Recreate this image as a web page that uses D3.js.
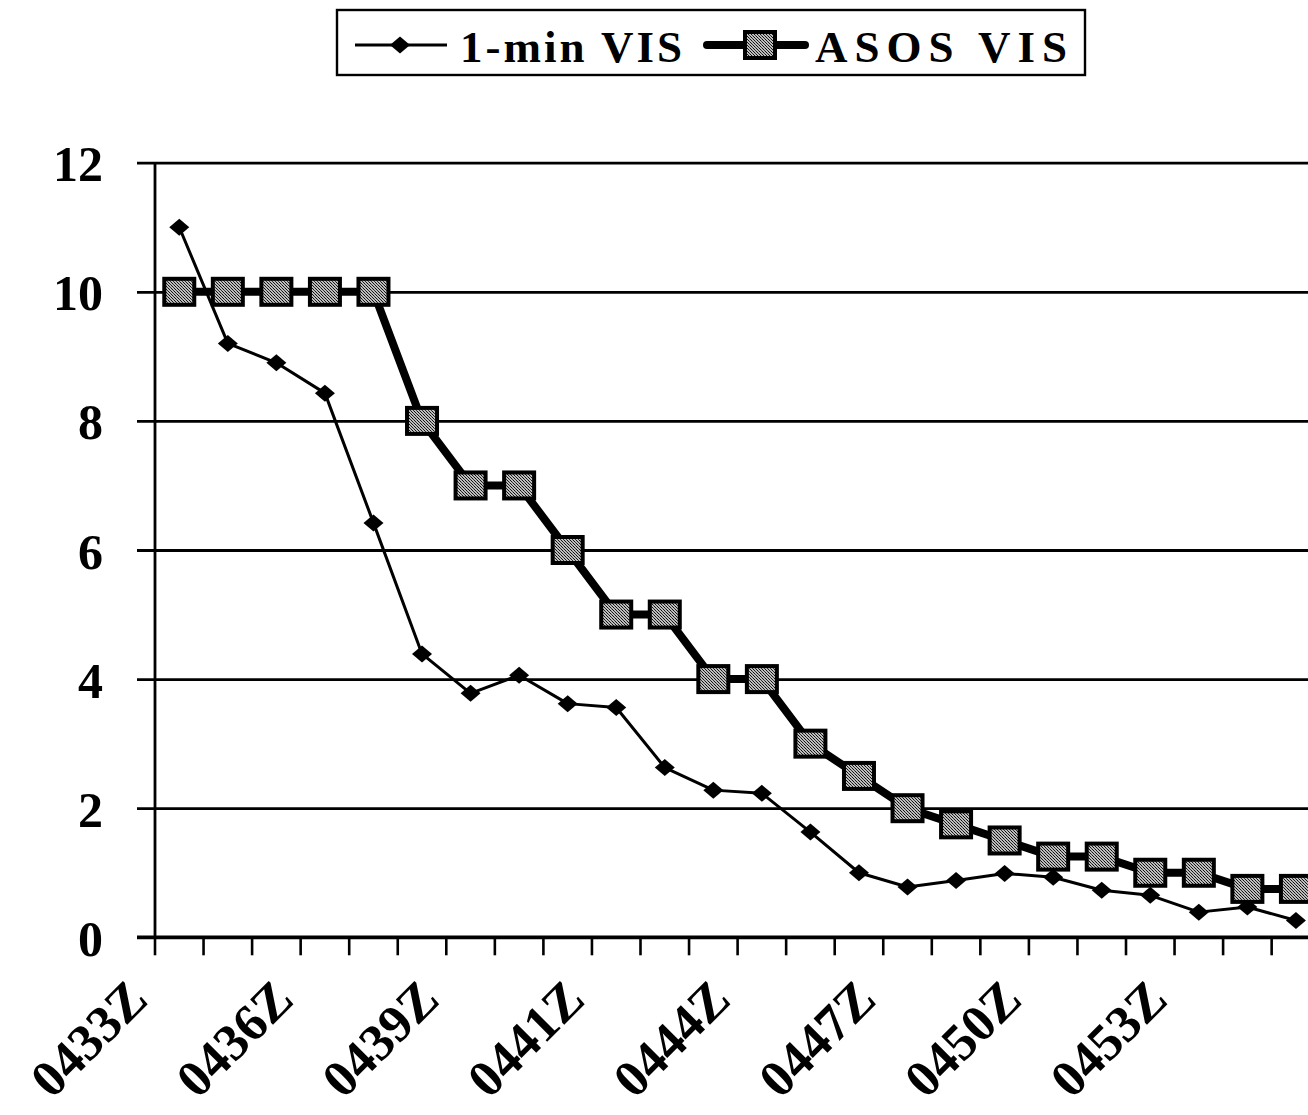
<!DOCTYPE html>
<html>
<head>
<meta charset="utf-8">
<script src="https://cdn.jsdelivr.net/npm/d3@7"></script>
<style>
  html, body { margin: 0; padding: 0; background: #fff; }
  svg { display: block; }
  text { font-family: "Liberation Serif", "Times New Roman", serif; font-weight: bold; fill: #000; }
</style>
</head>
<body>
<svg id="chart" width="1308" height="1115"></svg>
<script>
// ---- data ----
const categories = ["0433Z","","","0436Z","","","0439Z","","","0441Z","","","0444Z","","","0447Z","","","0450Z","","","0453Z","",""];
const tickLabels = ["0433Z","0436Z","0439Z","0441Z","0444Z","0447Z","0450Z","0453Z"];
const yTicks = [0, 2, 4, 6, 8, 10, 12];
const seriesNames = ["1-min VIS", "ASOS VIS"];
const oneMinVis = [11.0, 9.2, 8.9, 8.43, 6.42, 4.39, 3.78, 4.06, 3.62, 3.56, 2.63, 2.28, 2.23, 1.63, 1.0, 0.78, 0.88, 0.99, 0.93, 0.73, 0.65, 0.39, 0.47, 0.26];
const asosVis = [10, 10, 10, 10, 10, 8, 7, 7, 6, 5, 5, 4, 4, 3, 2.5, 2, 1.75, 1.5, 1.25, 1.25, 1, 1, 0.75, 0.75];

// ---- layout ----
const svg = d3.select("#chart");
const plotLeft = 155, bandW = 48.55;
const plotRight = plotLeft + bandW * categories.length;
const plotTop = 162.7, plotBottom = 937.3;

const x = d3.scaleBand().domain(categories.map((c, i) => i)).range([plotLeft, plotRight]).paddingInner(0).paddingOuter(0);
const y = d3.scaleLinear().domain([0, 12]).range([plotBottom, plotTop]);
const cx = i => x(i) + x.bandwidth() / 2;

// pattern for squares (dithered gray)
const defs = svg.append("defs");
const pat = defs.append("pattern").attr("id", "dither").attr("patternUnits", "userSpaceOnUse")
  .attr("width", 3).attr("height", 3);
pat.append("rect").attr("width", 3).attr("height", 3).attr("fill", "#bdbdbd");
pat.append("rect").attr("x", 0).attr("y", 0).attr("width", 1).attr("height", 1).attr("fill", "#111");
pat.append("rect").attr("x", 1).attr("y", 1).attr("width", 1).attr("height", 1).attr("fill", "#111");
pat.append("rect").attr("x", 2).attr("y", 2).attr("width", 1).attr("height", 1).attr("fill", "#333");

// gridlines + y labels
const yAxis = d3.axisLeft(y).tickValues(yTicks).tickSize(0).tickPadding(0).tickFormat(d3.format("d"));
const gy = svg.append("g").attr("transform", `translate(${plotLeft - 18},0)`).call(yAxis);
gy.select(".domain").remove();
gy.selectAll(".tick line").attr("stroke", "#000").attr("stroke-width", 2.8).attr("x1", 0).attr("x2", plotRight - plotLeft + 40);
gy.selectAll(".tick text").attr("x", 103 - (plotLeft - 18)).attr("dy", "0.36em")
  .style("font-size", "50px").attr("text-anchor", "end");

// y axis line
svg.append("line").attr("x1", plotLeft).attr("x2", plotLeft).attr("y1", plotTop).attr("y2", plotBottom)
  .attr("stroke", "#000").attr("stroke-width", 2.8);

// x axis ticks (category boundaries)
const boundaries = categories.map((c, i) => x(i));
svg.append("g").selectAll("line").data(boundaries).join("line")
  .attr("x1", d => d).attr("x2", d => d).attr("y1", plotBottom).attr("y2", plotBottom + 18)
  .attr("stroke", "#000").attr("stroke-width", 2.6);
svg.append("line").attr("x1", plotLeft - 18).attr("x2", plotRight + 10).attr("y1", plotBottom).attr("y2", plotBottom)
  .attr("stroke", "#000").attr("stroke-width", 3.4);

// x labels (every 3rd category)
const labelIdx = categories.map((c, i) => i).filter(i => categories[i] !== "");
svg.append("g").selectAll("text").data(labelIdx).join("text")
  .attr("transform", i => `translate(${cx(i) - 42},989) rotate(-45)`)
  .attr("text-anchor", "end").attr("dy", "0.35em")
  .style("font-size", "52px")
  .text(i => tickLabels[labelIdx.indexOf(i)]);

// ASOS line
const lineGen = d3.line().x((d, i) => cx(i)).y(d => y(d));
svg.append("path").datum(asosVis).attr("d", lineGen)
  .attr("fill", "none").attr("stroke", "#000").attr("stroke-width", 8).attr("stroke-linejoin", "round");

// 1-min line
svg.append("path").datum(oneMinVis).attr("d", lineGen)
  .attr("fill", "none").attr("stroke", "#000").attr("stroke-width", 3).attr("stroke-linejoin", "round");

// markers
const diamond = (w, h) => `M0,${-h/2}L${w/2},0L0,${h/2}L${-w/2},0Z`;
svg.append("g").selectAll("path").data(oneMinVis).join("path")
  .attr("transform", (d, i) => `translate(${cx(i)},${y(d)})`)
  .attr("d", diamond(20, 17)).attr("fill", "#000");

svg.append("g").selectAll("rect").data(asosVis).join("rect")
  .attr("x", (d, i) => cx(i) - 15).attr("y", d => y(d) - 13)
  .attr("width", 30).attr("height", 26)
  .attr("fill", "url(#dither)").attr("stroke", "#000").attr("stroke-width", 4);

// legend
const lg = svg.append("g");
lg.append("rect").attr("x", 337).attr("y", 10).attr("width", 748).attr("height", 65)
  .attr("fill", "#fff").attr("stroke", "#000").attr("stroke-width", 2.4);
lg.append("line").attr("x1", 355).attr("x2", 447).attr("y1", 45).attr("y2", 45).attr("stroke", "#000").attr("stroke-width", 3);
lg.append("path").attr("transform", "translate(400,45)").attr("d", diamond(20, 17)).attr("fill", "#000");
lg.append("text").attr("x", 460).attr("y", 62).style("font-size", "45px").style("letter-spacing", "3px").text(seriesNames[0]);
lg.append("line").attr("x1", 707).attr("x2", 805).attr("y1", 45).attr("y2", 45).attr("stroke", "#000").attr("stroke-width", 8).attr("stroke-linecap", "round");
lg.append("rect").attr("x", 745).attr("y", 32).attr("width", 30).attr("height", 26)
  .attr("fill", "url(#dither)").attr("stroke", "#000").attr("stroke-width", 4);
lg.append("text").attr("x", 815).attr("y", 62).style("font-size", "45px").style("letter-spacing", "7px").text(seriesNames[1]);
</script>
</body>
</html>
